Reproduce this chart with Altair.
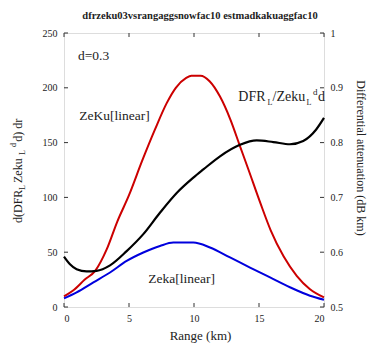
import altair as alt
import pandas as pd

# ---- data ----
red_x = [0, 0.7, 1.6, 2.4, 3.3, 4.1, 5.0, 6.0, 7.0, 7.9, 8.6, 9.4, 9.8, 10.5, 11.2, 12.0, 12.8, 13.5, 14.2, 15.1, 15.9, 16.9, 17.9, 18.9, 20]
red_v = [9.7, 15, 25, 33, 53, 78, 102, 133, 162, 186, 200, 209, 211, 211, 206, 192, 171, 148, 125, 95, 70, 46, 28.5, 16.5, 8.8]

blue_x = [0, 0.97, 2.26, 3.54, 4.82, 6.1, 7.38, 8.41, 9.95, 11.23, 12.77, 14.31, 15.85, 17.38, 18.92, 20]
blue_v = [7.9, 13.4, 22.5, 31.5, 42, 49.7, 55.7, 58.8, 58.8, 54.3, 45.2, 36, 27, 18, 10.3, 6.6]

black_x = [0, 0.46, 0.97, 1.74, 2.5, 3.54, 4.82, 6.1, 7.38, 8.67, 9.95, 10.72, 12.0, 13.54, 14.82, 16.1, 17.38, 18.4, 19.4, 20]
black_r = [0.592, 0.578, 0.569, 0.565, 0.566, 0.576, 0.602, 0.633, 0.672, 0.708, 0.736, 0.751, 0.775, 0.796, 0.804, 0.801, 0.797, 0.803, 0.824, 0.845]

x_ticks = [0, 5, 10, 15, 20]
left_ticks = [0, 50, 100, 150, 200, 250]
right_ticks = [0.5, 0.6, 0.7, 0.8, 0.9, 1.0]

title_text = "dfrzeku03vsrangaggsnowfac10 estmadkakuaggfac10"

W, H = 260, 274
SERIF = "Liberation Serif, Times New Roman, serif"
FRAME = "#333333"
TEXT = "#222222"

red_df = pd.DataFrame({"x": red_x, "v": red_v})
blue_df = pd.DataFrame({"x": blue_x, "v": blue_v})
black_df = pd.DataFrame({"x": black_x, "r": black_r})
xt_df = pd.DataFrame({"x": x_ticks})
lt_df = pd.DataFrame({"t": left_ticks})
rt_df = pd.DataFrame({"t": right_ticks})
one = pd.DataFrame({"k": [0]})

x_axis = alt.Axis(values=x_ticks, ticks=False, domain=False, grid=False, title=None,
                  labelPadding=6, labelFontSize=10, labelFont=SERIF, labelColor=TEXT)
x_scale = alt.Scale(domain=[0, 20], nice=False, zero=False)
left_scale = alt.Scale(domain=[0, 250], nice=False)
right_scale = alt.Scale(domain=[0.5, 1.0], nice=False, zero=False)


def X(field):
    return alt.X(f"{field}:Q", scale=x_scale, axis=x_axis)


red = alt.Chart(red_df).mark_line(color="#cc0000", strokeWidth=2, interpolate="monotone").encode(
    x=X("x"),
    y=alt.Y("v:Q", scale=left_scale,
            axis=alt.Axis(orient="left", values=left_ticks, ticks=False, domain=False, grid=False,
                          title=None, labelPadding=7, labelFontSize=10, labelFont=SERIF,
                          labelColor=TEXT)),
)
blue = alt.Chart(blue_df).mark_line(color="#0000dd", strokeWidth=2, interpolate="monotone").encode(
    x=X("x"),
    y=alt.Y("v:Q", scale=left_scale, axis=None),
)
black = alt.Chart(black_df).mark_line(color="#000000", strokeWidth=2.2, interpolate="monotone").encode(
    x=X("x"),
    y=alt.Y("r:Q", scale=right_scale,
            axis=alt.Axis(orient="right", values=right_ticks, format=".1~f", ticks=False, domain=False,
                          grid=False, title=None, labelPadding=6, labelFontSize=10, labelFont=SERIF,
                          labelColor=TEXT)),
)

tick_len = 4
xt_bottom = alt.Chart(xt_df).mark_rule(color=FRAME, strokeWidth=1).encode(
    x=X("x"), y=alt.value(H), y2=alt.value(H - tick_len))
xt_top = alt.Chart(xt_df).mark_rule(color=FRAME, strokeWidth=1).encode(
    x=X("x"), y=alt.value(0), y2=alt.value(tick_len))
lt = alt.Chart(lt_df).mark_rule(color=FRAME, strokeWidth=1).encode(
    y=alt.Y("t:Q", scale=left_scale, axis=None), x=alt.value(0), x2=alt.value(tick_len))
rt = alt.Chart(rt_df).mark_rule(color=FRAME, strokeWidth=1).encode(
    y=alt.Y("t:Q", scale=right_scale, axis=None), x=alt.value(W - tick_len), x2=alt.value(W))


def txt(s, x, y, size=13.5, angle=0, align="left", weight="normal", baseline="alphabetic"):
    kw = dict(text=s, font=SERIF, fontSize=size, align=align, baseline=baseline,
              fontWeight=weight, color=TEXT)
    if angle:
        kw["angle"] = angle
    return alt.Chart(one).mark_text(**kw).encode(x=alt.value(x), y=alt.value(y))


texts = [
    txt(title_text, 136, -14.5, size=10.5, align="center", weight="bold"),
    txt("Range (km)", 136.5, 307, size=13, align="center"),
    txt("Differential attenuation (dB km)", 293, 125, size=12, angle=90, align="center"),
    txt("d=0.3", 14, 27),
    txt("ZeKu[linear]", 15.3, 87),
    txt("Zeka[linear]", 84.3, 250),
    # DFR_L/Zeku_L^d d
    txt("DFR", 174.3, 68, size=14),
    txt("L", 203.5, 72, size=8),
    txt("/Zeku", 208.5, 68, size=14),
    txt("L", 242.5, 72, size=8),
    txt("d", 249, 62, size=9),
    txt("d", 254, 68, size=14),
    # left axis title d(DFR_L Zeku_L^d) dr (rotated)
    txt("d(DFR", -42.3, 190, size=12, angle=270),
    txt("L", -39, 157, size=8, angle=270),
    txt("Zeku", -42.3, 150, size=12, angle=270),
    txt("L", -39, 122, size=8, angle=270),
    txt("d", -48, 114, size=8, angle=270),
    txt("d) dr", -42.3, 108.7, size=12, angle=270),
]

chart = alt.layer(red, blue, black, xt_bottom, xt_top, lt, rt, *texts).resolve_scale(
    y="independent"
).properties(
    width=W, height=H,
    padding={"left": 64, "top": 33, "right": 43, "bottom": 40},
    autosize=alt.AutoSizeParams(type="none"),
).configure_view(stroke=FRAME, strokeWidth=1).configure(background="white")

chart.save("out.html", embed_options={"renderer": "svg", "actions": False})
